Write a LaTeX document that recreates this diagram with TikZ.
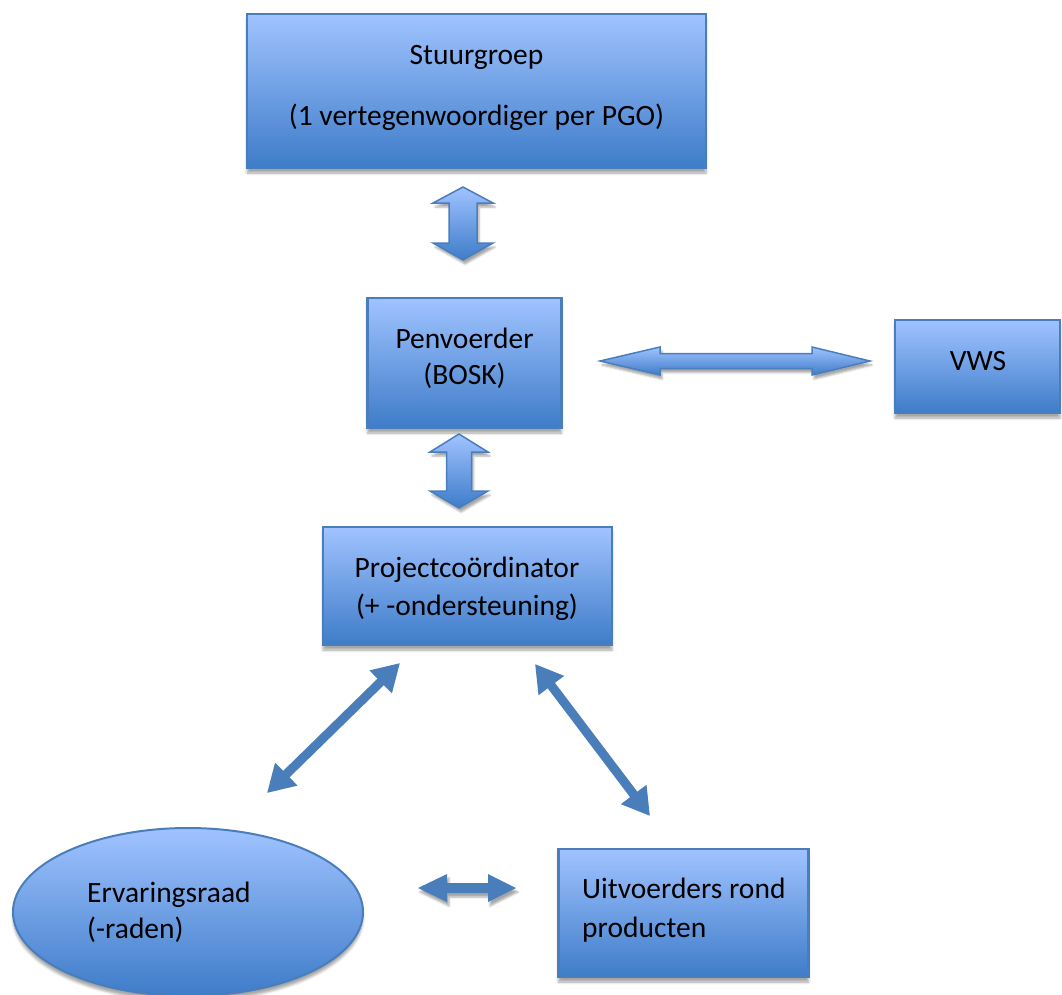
\documentclass[tikz,border=0pt]{standalone}
\usepackage{fontspec}
\setmainfont{Carlito}
\usetikzlibrary{arrows.meta,shapes.geometric,shadows.blur}
\definecolor{topfill}{RGB}{160,195,255}
\definecolor{botfill}{RGB}{62,124,201}
\definecolor{edgeblue}{RGB}{74,126,187}
\definecolor{arrowblue}{RGB}{74,126,187}
\tikzset{
  softshadow/.style={blur shadow={shadow xshift=0pt, shadow yshift=-5pt, shadow blur radius=2.5pt, shadow opacity=35}},
  arrowshadow/.style={blur shadow={shadow xshift=2pt, shadow yshift=-4pt, shadow blur radius=2pt, shadow opacity=35}},
  box/.style={draw=edgeblue, line width=2.5pt, top color=topfill, bottom color=botfill, inner sep=0pt, softshadow},
  ellbox/.style={ellipse, draw=edgeblue, line width=2pt, top color=topfill, bottom color=botfill, inner sep=0pt, softshadow},
  txt/.style={inner sep=0pt, anchor=base},
  ltxt/.style={inner sep=0pt, anchor=base west},
  blockarrow/.style={draw=edgeblue, line width=1.5pt, line join=miter, top color=topfill, bottom color=botfill, arrowshadow},
  solidarrow/.style={fill=arrowblue, draw=none, arrowshadow},
  diag/.style={draw=arrowblue, line width=9pt, {Triangle[width=30pt,length=27pt]}-{Triangle[width=30pt,length=27pt]}},
  diagshadow/.style={draw=black!25, opacity=0.45, line width=9pt, {Triangle[width=30pt,length=27pt]}-{Triangle[width=30pt,length=27pt]}}
}
\begin{document}
\begin{tikzpicture}[x=1pt,y=-1pt,font=\fontsize{29.5}{36}\selectfont]
\useasboundingbox (0,0) rectangle (1062,994);

% boxes
\node[box, minimum width=459, minimum height=154] (stuur) at (476.5,91) {};
\node[box, minimum width=194, minimum height=130] (pen) at (464.5,363) {};
\node[box, minimum width=165, minimum height=93] (vws) at (977.5,366.5) {};
\node[box, minimum width=289, minimum height=118] (proj) at (467.5,586) {};
\node[ellbox, minimum width=350, minimum height=168] (erv) at (188,912) {};
\node[box, minimum width=250, minimum height=128] (uit) at (683.5,913) {};

% texts
\node[txt] (stuurA) at (476.5,64) {Stuurgroep};
\node[txt] (stuurB) at (476.5,125) {(1 vertegenwoordiger per PGO)};
\node[txt] (penA) at (464.5,348) {Penvoerder};
\node[txt] (penB) at (464.5,384) {(BOSK)};
\node[txt] (vwsA) at (978,370) {VWS};
\node[txt] (projA) at (467,577) {Projectcoördinator};
\node[txt] (projB) at (467,615) {(+ -ondersteuning)};
\node[ltxt] (ervA) at (87,902) {Ervaringsraad};
\node[ltxt] (ervB) at (87,938) {(-raden)};
\node[ltxt] (uitA) at (582,898) {Uitvoerders rond};
\node[ltxt] (uitB) at (582,937) {producten};

% block arrows
\path[blockarrow] (463,187) -- (493,203) -- (477,203) -- (477,243) -- (493,243) -- (463,260)
  -- (433,243) -- (449,243) -- (449,203) -- (433,203) -- cycle;
\path[blockarrow] (459,434) -- (488,452) -- (471.5,452) -- (471.5,491) -- (488,491) -- (459,508)
  -- (430,491) -- (446.5,491) -- (446.5,452) -- (430,452) -- cycle;
\path[blockarrow] (600,361) -- (660,347) -- (660,353.5) -- (812,353.5) -- (812,347) -- (870,361)
  -- (812,375) -- (812,368.5) -- (660,368.5) -- (660,375) -- cycle;
\path[solidarrow] (418,888) -- (447,874) -- (447,883) -- (488,883) -- (488,874) -- (516,888)
  -- (488,902) -- (488,893) -- (447,893) -- (447,902) -- cycle;

% diagonal arrows
\coordinate (d1a) at (267,793);
\coordinate (d1b) at (400,663);
\coordinate (d2a) at (535,664);
\coordinate (d2b) at (650,816);
\begin{scope}[shift={(2,4)}]
  \draw[diagshadow] (d1a) -- (d1b);
  \draw[diagshadow] (d2a) -- (d2b);
\end{scope}
\draw[diag] (d1a) -- (d1b);
\draw[diag] (d2a) -- (d2b);
\end{tikzpicture}
\end{document}
